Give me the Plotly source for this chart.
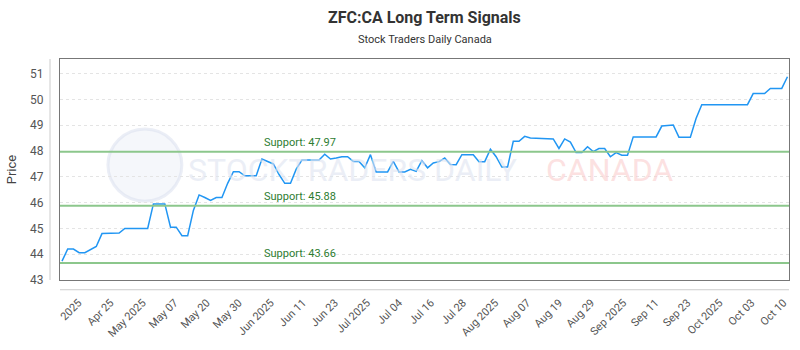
import plotly.graph_objects as go
import numpy as np

# ---------------- data ----------------
prices = [
    43.73, 44.20, 44.20, 44.06, 44.06, 44.17, 44.30, 44.80, 44.80, 44.80,
    44.82, 45.00, 45.00, 45.00, 45.00, 45.00, 45.95, 45.95, 45.95, 45.05,
    45.05, 44.72, 44.72, 45.70, 46.30, 46.20, 46.09, 46.20, 46.20, 46.75,
    47.20, 47.20, 47.04, 47.04, 47.04, 47.69, 47.58, 47.50, 47.09, 46.75,
    46.75, 47.30, 47.65, 47.65, 47.65, 47.65, 47.88, 47.69, 47.73, 47.78,
    47.78, 47.60, 47.60, 47.35, 47.86, 47.19, 47.19, 47.19, 47.60, 47.19,
    47.19, 47.29, 47.21, 47.63, 47.35, 47.54, 47.59, 47.73, 47.48, 47.47,
    47.86, 47.86, 47.86, 47.59, 47.59, 48.07, 47.78, 47.38, 47.38, 48.38,
    48.38, 48.57, 48.51, 48.50, 48.50, 48.48, 48.47, 48.10, 48.47, 48.35,
    47.94, 47.94, 48.17, 47.98, 48.10, 48.10, 47.78, 47.94, 47.84, 47.84,
    48.55, 48.55, 48.55, 48.55, 48.55, 48.97, 48.99, 49.01, 48.54, 48.54,
    48.54, 49.26, 49.80, 49.80, 49.80, 49.80, 49.80, 49.80, 49.80, 49.80,
    49.80, 50.23, 50.23, 50.23, 50.43, 50.43, 50.43, 50.88,
]
support_levels = [47.97, 45.88, 43.66]
tick_labels = [
    "2025", "Apr 25", "May 2025", "May 07", "May 20", "May 30", "Jun 2025",
    "Jun 11", "Jun 23", "Jul 2025", "Jul 04", "Jul 16", "Jul 28", "Aug 2025",
    "Aug 07", "Aug 19", "Aug 29", "Sep 2025", "Sep 11", "Sep 23", "Oct 2025",
    "Oct 03", "Oct 10",
]
y_ticks = [43, 44, 45, 46, 47, 48, 49, 50, 51]

# ---------------- figure ----------------
x = list(range(len(prices)))
tick_pos = list(np.linspace(2.9, 2.9 + 5.61 * (len(tick_labels) - 1), len(tick_labels)))

FONT = "Roboto"
fig = go.Figure()

# plot-area geometry in pixels (for paper-coordinate decorations)
L, R, T, B = 60, 790, 59, 286
def px(xp):
    return (xp - L) / (R - L)
def py(yp):
    return (B - yp) / (B - T)

shapes = []
# watermark logo circle
shapes.append(dict(type="circle", xref="paper", yref="paper",
                   x0=px(108), x1=px(182), y0=py(205), y1=py(131),
                   fillcolor="rgba(226,232,244,0.35)", line=dict(color="rgba(215,222,238,0.5)", width=3),
                   layer="below"))
# support lines
for lvl in support_levels:
    shapes.append(dict(type="line", xref="paper", yref="y", x0=0, x1=1, y0=lvl, y1=lvl,
                       line=dict(color="#8cc78c", width=2), layer="above"))
# offset axis lines
shapes.append(dict(type="line", xref="paper", yref="paper", x0=px(50), x1=px(50), y0=py(286), y1=py(59),
                   line=dict(color="#cccccc", width=1)))
shapes.append(dict(type="line", xref="paper", yref="paper", x0=px(60), x1=px(790), y0=py(296), y1=py(296),
                   line=dict(color="#cccccc", width=1)))

annotations = []
annotations.append(dict(xref="paper", yref="paper", x=px(186), y=py(173), xanchor="left", yanchor="middle",
                        text="STOCKTRADERS DAILY", showarrow=False,
                        font=dict(family=FONT, size=32, color="rgba(222,228,240,0.6)")))
annotations.append(dict(xref="paper", yref="paper", x=px(545), y=py(173), xanchor="left", yanchor="middle",
                        text="CANADA", showarrow=False,
                        font=dict(family=FONT, size=32, color="rgba(250,205,205,0.6)")))
for lvl in support_levels:
    annotations.append(dict(xref="paper", yref="y", x=px(262), y=lvl, xanchor="left", yanchor="bottom",
                            yshift=1, text=f"Support: {lvl:.2f}", showarrow=False,
                            font=dict(family=FONT, size=11, color="#2e7d32")))
annotations.append(dict(xref="paper", yref="paper", x=0.5, y=1, yshift=42, xanchor="center", yanchor="middle",
                        text="<b>ZFC:CA Long Term Signals</b>", showarrow=False,
                        font=dict(family=FONT, size=16, color="#333333")))
annotations.append(dict(xref="paper", yref="paper", x=0.5, y=1, yshift=20, xanchor="center", yanchor="middle",
                        text="Stock Traders Daily Canada", showarrow=False,
                        font=dict(family=FONT, size=11, color="#333333")))

fig.add_trace(go.Scatter(x=x, y=prices, mode="lines",
                         line=dict(color="#2196f3", width=1.5), hoverinfo="y", showlegend=False))

fig.update_layout(
    width=800, height=350,
    margin=dict(l=L, r=800 - R, t=T, b=350 - B),
    paper_bgcolor="white", plot_bgcolor="white",
    font=dict(family=FONT, color="#555555"),
    shapes=shapes, annotations=annotations,
    xaxis=dict(range=[-0.35, 127.27], tickmode="array", tickvals=tick_pos, ticktext=tick_labels,
               tickangle=-45, showgrid=False, zeroline=False,
               showline=True, mirror=True, linecolor="#777777", linewidth=1,
               ticks="outside", ticklen=11, tickcolor="rgba(0,0,0,0)",
               tickfont=dict(family=FONT, size=11, color="#555555")),
    yaxis=dict(range=[43, 51.57], tickmode="array", tickvals=y_ticks,
               showgrid=True, gridcolor="#e4e4e4", griddash="dot", zeroline=False,
               showline=True, mirror=True, linecolor="#777777", linewidth=1,
               ticks="outside", ticklen=13, tickcolor="rgba(0,0,0,0)",
               tickfont=dict(family=FONT, size=12, color="#555555"),
               title=dict(text="Price", font=dict(family=FONT, size=13, color="#444444"), standoff=10)),
)

fig.write_html("out.html")
